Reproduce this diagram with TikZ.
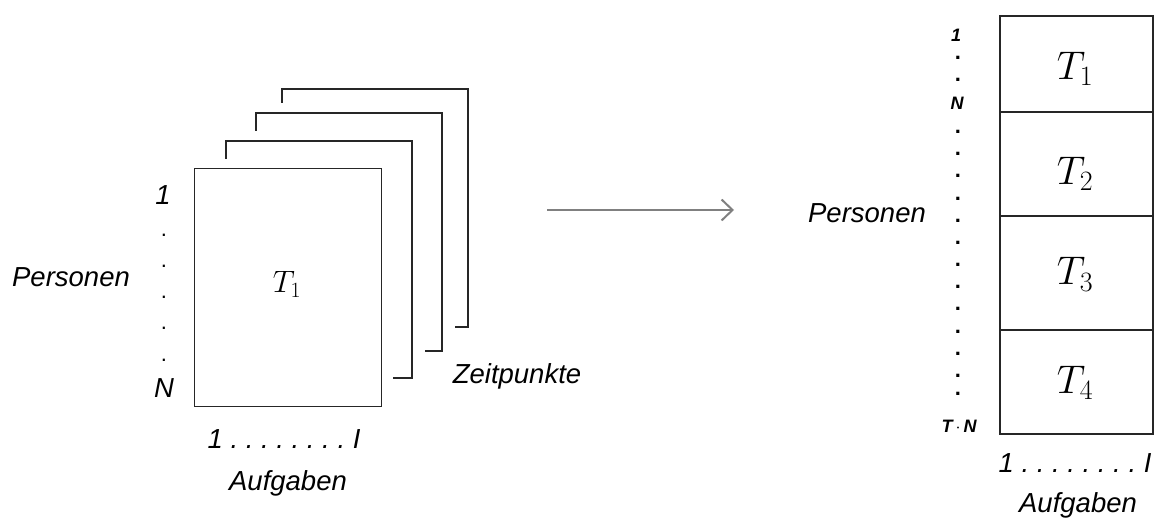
\documentclass[tikz,border=0pt]{standalone}
\usepackage{fix-cm}
\usepackage{fontspec}
\newfontfamily\arial{Liberation Sans}
\usetikzlibrary{arrows.meta}
\frenchspacing
\tikzset{
  lbl/.style={inner sep=0pt, anchor=base, font=\arial\itshape\fontsize{27.5}{27.5}\selectfont},
  small/.style={inner sep=0pt, anchor=base, font=\arial\bfseries\itshape\fontsize{18}{18}\selectfont},
  dotn/.style={inner sep=0pt, anchor=center, font=\arial\fontsize{22}{22}\selectfont},
  sdot/.style={inner sep=0pt, anchor=center, font=\arial\bfseries\fontsize{22}{22}\selectfont},
  page/.style={draw=black!85, line width=1.2pt},
  cell/.style={draw=black!85, line width=1.7pt, inner sep=0pt, minimum width=153pt, anchor=north west},
  tl/.style={inner sep=0pt, anchor=base, font=\fontsize{31}{31}\selectfont},
  tr/.style={inner sep=0pt, anchor=base, font=\fontsize{40}{40}\selectfont},
}
\begin{document}
\begin{tikzpicture}[x=1pt,y=-1pt]
\useasboundingbox (0,0) rectangle (1155,518);
% back layers
\draw[page] (282,103) -- (282,89) -- (468,89) -- (468,327) -- (455,327);
\draw[page] (256,131) -- (256,113) -- (442,113) -- (442,351) -- (425,351);
\draw[page] (226,159) -- (226,141) -- (412,141) -- (412,378) -- (393,378);
% front page
\node[page, inner sep=0pt, minimum width=187pt, minimum height=238pt, anchor=north west] (f1) at (194,168) {};
\node[tl] (t1l) at (287,293) {$T_1$};
% left labels
\node[lbl] (p1) at (163,205) {1};
\foreach \y/\n in {235/a,266/b,297/c,328/d,360/e} \node[dotn] (ld\n) at (164,\y) {.};
\node[lbl] (pn) at (164,397) {N};
\node[lbl] (pers) at (71,287) {Personen};
\node[lbl] (al) at (284,448) {1 . . . . . . . . I};
\node[lbl] (aufl) at (288,490) {Aufgaben};
\node[lbl] (zeit) at (517,383) {Zeitpunkte};
% arrow
\coordinate (as) at (547,210);
\coordinate (ae) at (734,210);
\draw[draw=black!50, line width=2pt, -{Straight Barb[length=11pt,width=21pt,line width=2pt]}] (as) -- (ae);
% right stack
\node[cell, minimum height=96pt] (c1) at (999,15) {};
\node[cell, minimum height=104pt] (c2) at (999,111) {};
\node[cell, minimum height=114pt] (c3) at (999,215) {};
\node[cell, minimum height=104pt] (c4) at (999,329) {};
\node[tr] (tr1) at (1075,80) {$T_1$};
\node[tr] (tr2) at (1075,185) {$T_2$};
\node[tr] (tr3) at (1075,285) {$T_3$};
\node[tr] (tr4) at (1075,393) {$T_4$};
% right labels
\node[small] (r1) at (956,42) {1};
\node[small] (rn) at (957,110) {N};
\node[small] (rtn) at (959,432) {T\,$\cdot$\,N};
\foreach \y [count=\i] in {58,80,132,154,176,199,221,243,265,287,309,332,354,376,394} \node[sdot] (rd\i) at (958,\y) {.};
\node[lbl] (persr) at (867,223) {Personen};
\node[lbl] (ar) at (1075,472) {1 . . . . . . . . I};
\node[lbl] (aufr) at (1078,512) {Aufgaben};
\end{tikzpicture}
\end{document}
